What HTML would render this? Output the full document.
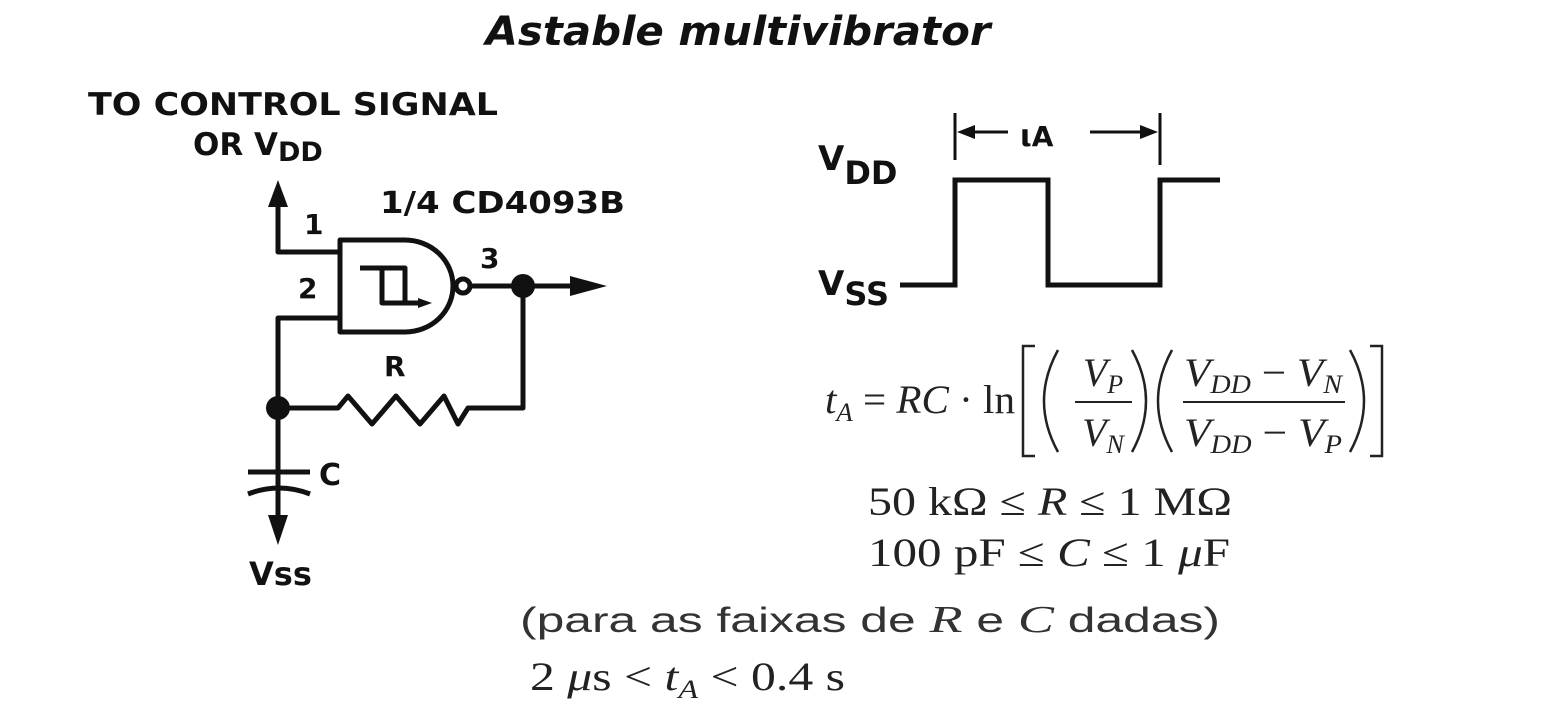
<!DOCTYPE html>
<html><head><meta charset="utf-8"><style>
html,body{margin:0;padding:0;background:#fff;}
svg{display:block;}
.s{font-family:"DejaVu Sans","Liberation Sans",sans-serif;font-weight:bold;fill:#111;}
.m{font-family:"Liberation Serif",serif;fill:#222;}
</style></head><body>
<svg width="1561" height="714" viewBox="0 0 1561 714" xmlns="http://www.w3.org/2000/svg">
<rect width="1561" height="714" fill="#fff"/>
<text x="738" y="45" text-anchor="middle" class="s" font-style="italic" font-size="40" textLength="505" lengthAdjust="spacingAndGlyphs">Astable multivibrator</text>
<text x="88" y="115" class="s" font-size="31" textLength="410" lengthAdjust="spacingAndGlyphs">TO CONTROL SIGNAL</text>
<text x="193" y="155" class="s" font-size="31">OR V<tspan font-size="27" dy="6">DD</tspan></text>
<text x="380" y="213" class="s" font-size="30" textLength="245" lengthAdjust="spacingAndGlyphs">1/4 CD4093B</text>
<g stroke="#111" stroke-width="5" fill="none" stroke-linejoin="round">
<polyline points="278,205 278,252 340,252"/>
<polyline points="340,318 278,318 278,518"/>
<path d="M340,240 H405 A48,46 0 0 1 405,332 H340 Z"/>
<circle cx="463" cy="286" r="7"/>
<line x1="470" y1="286" x2="575" y2="286"/>
<polyline points="278,408 338,408 348,396 372,424 396,396 420,424 444,396 458,424 468,408 523,408 523,286"/>
<polyline points="360,268 405,268 405,303"/>
<polyline points="382,268 382,303 420,303"/>
<line x1="248" y1="472" x2="310" y2="472"/>
<path d="M248,494 Q279,482 310,494"/>
</g>
<polygon points="268,207 278,180 288,207" fill="#111"/>
<polygon points="268,515 278,545 288,515" fill="#111"/>
<polygon points="570,276 607,286 570,296" fill="#111"/>
<polygon points="418,298 432,303 418,308" fill="#111"/>
<circle cx="523" cy="286" r="12" fill="#111"/>
<circle cx="278" cy="408" r="12" fill="#111"/>
<text x="304" y="234" class="s" font-size="28">1</text>
<text x="298" y="298" class="s" font-size="28">2</text>
<text x="480" y="268" class="s" font-size="28">3</text>
<text x="384" y="376" class="s" font-size="28">R</text>
<text x="319" y="485" class="s" font-size="30">C</text>
<text x="249" y="585" class="s" font-size="32">Vss</text>
<g stroke="#111" stroke-width="5" fill="none">
<polyline points="900,285 955,285 955,180 1048,180 1048,285 1160,285 1160,180 1220,180"/>
<line x1="955" y1="113" x2="955" y2="160" stroke-width="3"/>
<line x1="1160" y1="113" x2="1160" y2="165" stroke-width="3"/>
<line x1="965" y1="132" x2="1008" y2="132" stroke-width="3"/>
<line x1="1090" y1="132" x2="1150" y2="132" stroke-width="3"/>
</g>
<polygon points="957,132 975,125 975,139" fill="#111"/>
<polygon points="1158,132 1140,125 1140,139" fill="#111"/>
<text x="1020" y="146" class="s" font-size="30">ι<tspan font-size="28">A</tspan></text>
<text x="818" y="170" class="s" font-size="34">V<tspan dy="14" font-size="32">DD</tspan></text>
<text x="818" y="295" class="s" font-size="34">V<tspan dy="10" font-size="32">SS</tspan></text>
<g class="m" font-size="40">
<text x="825" y="413" textLength="190" lengthAdjust="spacingAndGlyphs"><tspan font-style="italic">t</tspan><tspan font-style="italic" font-size="26" dy="8">A</tspan><tspan dy="-8"> = </tspan><tspan font-style="italic">RC</tspan> · ln</text>
<g fill="none" stroke="#222" stroke-width="2.5">
<polyline points="1035,346 1023,346 1023,456 1035,456"/>
<polyline points="1370,346 1382,346 1382,456 1370,456"/>
<path d="M1058,350 Q1030,401 1058,452"/>
<path d="M1132,350 Q1160,401 1132,452"/>
<path d="M1172,350 Q1144,401 1172,452"/>
<path d="M1350,350 Q1378,401 1350,452"/>
</g>
<text x="1103" y="386" text-anchor="middle" font-style="italic">V<tspan font-size="26" dy="7">P</tspan></text>
<line x1="1075" y1="402" x2="1132" y2="402" stroke="#222" stroke-width="2"/>
<text x="1103" y="446" text-anchor="middle" font-style="italic">V<tspan font-size="26" dy="7">N</tspan></text>
<text x="1263" y="386" text-anchor="middle" textLength="158" lengthAdjust="spacingAndGlyphs"><tspan font-style="italic">V</tspan><tspan font-style="italic" font-size="26" dy="7">DD</tspan><tspan dy="-7"> − </tspan><tspan font-style="italic">V</tspan><tspan font-style="italic" font-size="26" dy="7">N</tspan></text>
<line x1="1183" y1="402" x2="1345" y2="402" stroke="#222" stroke-width="2"/>
<text x="1263" y="446" text-anchor="middle" textLength="158" lengthAdjust="spacingAndGlyphs"><tspan font-style="italic">V</tspan><tspan font-style="italic" font-size="26" dy="7">DD</tspan><tspan dy="-7"> − </tspan><tspan font-style="italic">V</tspan><tspan font-style="italic" font-size="26" dy="7">P</tspan></text>
<text x="868" y="515" textLength="364" lengthAdjust="spacingAndGlyphs">50 kΩ ≤ <tspan font-style="italic">R</tspan> ≤ 1 MΩ</text>
<text x="868" y="566" textLength="362" lengthAdjust="spacingAndGlyphs">100 pF ≤ <tspan font-style="italic">C</tspan> ≤ 1 <tspan font-style="italic">μ</tspan>F</text>
<text x="530" y="690" textLength="315" lengthAdjust="spacingAndGlyphs">2 <tspan font-style="italic">μ</tspan>s &lt; <tspan font-style="italic">t</tspan><tspan font-style="italic" font-size="26" dy="8">A</tspan><tspan dy="-8"> &lt; 0.4 s</tspan></text>
</g>
<text x="520" y="632" font-family="'Liberation Sans',sans-serif" font-size="35" fill="#333" textLength="700" lengthAdjust="spacingAndGlyphs">(para as faixas de <tspan font-family="'Liberation Serif',serif" font-style="italic" font-size="38">R</tspan> e <tspan font-family="'Liberation Serif',serif" font-style="italic" font-size="38">C</tspan> dadas)</text>
</svg>
</body></html>
